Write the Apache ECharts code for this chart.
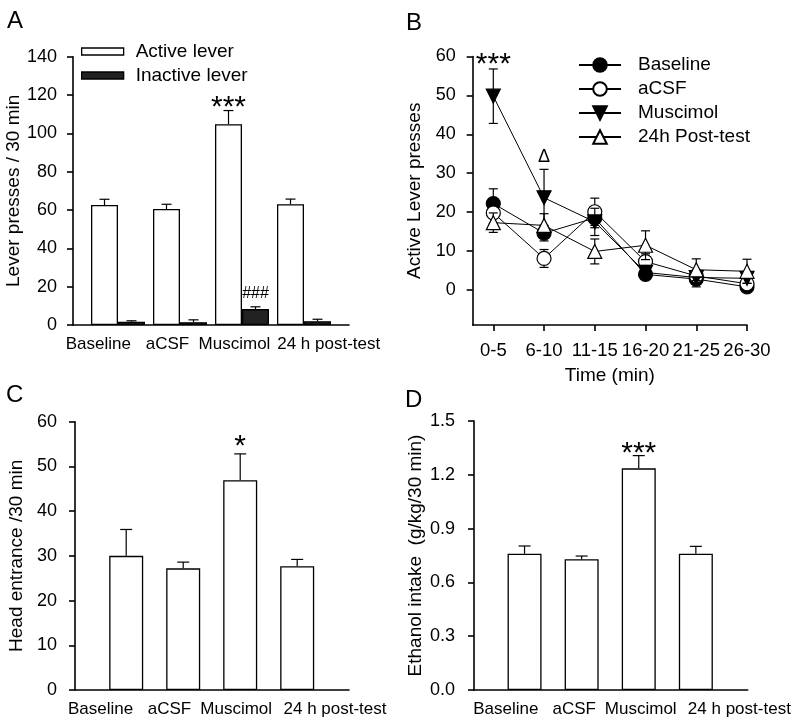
<!DOCTYPE html>
<html><head><meta charset="utf-8">
<script src="https://cdn.jsdelivr.net/npm/echarts@6/dist/echarts.min.js"></script>
<style>html,body{margin:0;padding:0;background:#fff}#c{width:800px;height:727px}</style>
</head><body><div id="c"></div>
<script>
// ---------------- data ----------------
const groups = ['Baseline', 'aCSF', 'Muscimol', '24 h post-test'];
const activeMean = [62.6, 60.5, 104.8, 63.0];
const activeSem = [3.0, 2.5, 7.1, 2.7];
const inactiveMean = [1.7, 1.5, 8.3, 2.0];
const inactiveSem = [0.5, 1.2, 1.2, 1.0];
const activeSig = ['', '', '***', ''];
const inactiveSig = ['', '', '###', ''];
const ticksA = [0, 20, 40, 60, 80, 100, 120, 140];

const timeBins = ['0-5', '6-10', '11-15', '16-20', '21-25', '26-30'];
const bBaseline = [22.2, 14.6, 18.5, 4.0, 2.8, 0.8];
const bBaselineSem = [3.8, 2.0, 2.5, 1.0, 2.0, 0.8];
const bACSF = [19.8, 8.1, 20.1, 7.3, 3.6, 1.6];
const bACSFSem = [2.8, 2.3, 3.5, 2.0, 1.5, 1.0];
const bMuscimol = [49.8, 23.7, 17.5, 4.5, 3.2, 3.0];
const bMuscimolSem = [7.0, 7.3, 3.5, 1.8, 1.5, 1.3];
const bPost = [17.3, 16.6, 9.9, 11.5, 5.2, 4.8];
const bPostSem = [2.5, 3.0, 3.2, 3.7, 2.8, 3.1];
const bMuscimolSig = ['***', '\u0394', '', '', '', ''];
const ticksB = [0, 10, 20, 30, 40, 50, 60];
const legendB = ['Baseline', 'aCSF', 'Muscimol', '24h Post-test'];

const headMean = [30.0, 27.2, 46.9, 27.7];
const headSem = [5.9, 1.4, 5.9, 1.5];
const headSig = ['', '', '*', ''];
const ticksC = [0, 10, 20, 30, 40, 50, 60];

const ethMean = [0.760, 0.729, 1.236, 0.760];
const ethSem = [0.043, 0.018, 0.071, 0.041];
const ethSig = ['', '', '***', ''];
const ticksD = [0, 0.3, 0.6, 0.9, 1.2, 1.5];

// ---------------- layout / style ----------------
const F = "Arial, 'Liberation Sans', Helvetica, sans-serif";
const AX = { color: '#000', width: 1.6 };
const txt = (s) => ({ fontFamily: F, fontSize: s, color: '#000' });

const grids = [
  { left: 73, top: 56.7, width: 276, height: 268.3 },     // 0 A frame
  { left: 87, top: 56.7, width: 248, height: 268.3 },     // 1 A data
  { left: 472.7, top: 56.5, width: 274.3, height: 268.5 },// 2 B
  { left: 75, top: 421.7, width: 274, height: 268.3 },    // 3 C frame
  { left: 97.7, top: 421.7, width: 228, height: 268.3 },  // 4 C data
  { left: 474, top: 421, width: 273.7, height: 269 },     // 5 D frame
  { left: 496, top: 421, width: 228.4, height: 269 }      // 6 D data
].map(g => Object.assign({ outerBoundsMode: 'none', containLabel: false }, g));

function frameX(gi) {
  return { gridIndex: gi, type: 'value', min: 0, max: 1,
    axisLine: { show: true, onZero: false, lineStyle: AX },
    axisTick: { show: false }, axisLabel: { show: false }, splitLine: { show: false } };
}
function frameY(gi, ticks, name, nameGap, margin, fmt) {
  return { gridIndex: gi, type: 'value', min: ticks[0], max: ticks[ticks.length - 1],
    interval: ticks[1] - ticks[0],
    axisLine: { show: true, onZero: false, lineStyle: AX },
    axisTick: { show: true, inside: false, length: 6, lineStyle: AX },
    axisLabel: Object.assign(txt(18), { margin: margin, formatter: fmt }),
    splitLine: { show: false },
    name: name, nameLocation: 'middle', nameGap: nameGap, nameTextStyle: txt(19) };
}
function shiftedLabels(fs, shifts, margin) {
  const rich = {};
  shifts.forEach((s, i) => {
    rich['s' + i] = Object.assign(txt(fs), { padding: s < 0 ? [0, -2 * s, 0, 0] : [0, 0, 0, 2 * s] });
  });
  return Object.assign(txt(fs), { interval: 0, margin: margin, rich: rich,
    formatter: (v, i) => '{s' + i + '|' + v + '}' });
}
function dataX(gi, shifts) {
  return { gridIndex: gi, type: 'category', data: groups,
    axisLine: { show: false }, axisTick: { show: false },
    axisLabel: shiftedLabels(17, shifts, 11), splitLine: { show: false } };
}
function dataY(gi, ticks) {
  return { gridIndex: gi, type: 'value', min: ticks[0], max: ticks[ticks.length - 1], show: false };
}

function errBars(o) {
  return {
    type: 'custom', xAxisIndex: o.xi, yAxisIndex: o.xi, z: o.z || 3, silent: true, clip: false,
    data: o.means.map((m, i) => [i, m, o.sems[i]]),
    encode: { x: 0, y: 1 },
    renderItem(params, api) {
      const i = api.value(0), m = api.value(1), s = api.value(2);
      const c = api.coord([i, m]), t = api.coord([i, m + s]), b = api.coord([i, m - s]);
      const x = c[0] + (o.dx || 0);
      const ls = { stroke: '#000', lineWidth: 1.2 };
      const ch = [
        { type: 'line', shape: { x1: x, y1: o.both ? b[1] : c[1], x2: x, y2: t[1] }, style: ls },
        { type: 'line', shape: { x1: x - o.cap / 2, y1: t[1], x2: x + o.cap / 2, y2: t[1] }, style: ls }
      ];
      if (o.both) ch.push({ type: 'line', shape: { x1: x - o.cap / 2, y1: b[1], x2: x + o.cap / 2, y2: b[1] }, style: ls });
      const sg = o.sigs && o.sigs[params.dataIndex];
      if (sg) {
        const f = sg.indexOf('*') >= 0 ? o.starFont : o.sigFont;
        const lift = sg.indexOf('*') >= 0 ? o.starLift : o.sigLift;
        ch.push({ type: 'text', style: { x: x, y: t[1] - lift, text: sg, fontFamily: F, fontSize: f,
          fill: '#000', align: 'center', verticalAlign: 'middle', textAlign: 'center', textVerticalAlign: 'middle' } });
      }
      return { type: 'group', children: ch };
    }
  };
}

const titleStyle = { fontFamily: F, fontSize: 24, fontWeight: 'normal', color: '#000' };

const bSeriesDefs = [
  { name: legendB[0], data: bBaseline, sem: bBaselineSem, symbol: 'circle', rot: 0, fill: '#000', size: 14 },
  { name: legendB[1], data: bACSF, sem: bACSFSem, symbol: 'circle', rot: 0, fill: '#fff', size: 14 },
  { name: legendB[2], data: bMuscimol, sem: bMuscimolSem, symbol: 'triangle', rot: 180, fill: '#000', size: 14, sig: bMuscimolSig },
  { name: legendB[3], data: bPost, sem: bPostSem, symbol: 'triangle', rot: 0, fill: '#fff', size: 14 }
];
const bSeries = [];
bSeriesDefs.forEach((d, k) => {
  bSeries.push(Object.assign(errBars({ xi: 2, means: d.data, sems: d.sem, cap: 9, both: true,
    sigs: d.sig, starFont: 30, starLift: 4, sigFont: 18, sigLift: 12 }), { z: 2 + 2 * k }));
  bSeries.push({ type: 'line', name: d.name, xAxisIndex: 2, yAxisIndex: 2, z: 3 + 2 * k,
    data: d.data.map((v, i) => [i, v]), symbol: d.symbol, symbolRotate: d.rot, symbolSize: d.size,
    showSymbol: true, showAllSymbol: true,
    lineStyle: { color: '#000', width: 1 },
    itemStyle: { color: d.fill, borderColor: '#000', borderWidth: 1.2 } });
});

const option = {
  animation: false,
  backgroundColor: '#fff',
  title: [
    { text: 'A', left: 7, top: 9, padding: 0, textStyle: titleStyle },
    { text: 'B', left: 406, top: 11, padding: 0, textStyle: titleStyle },
    { text: 'C', left: 6, top: 383, padding: 0, textStyle: titleStyle },
    { text: 'D', left: 405, top: 388, padding: 0, textStyle: titleStyle }
  ],
  legend: [
    { orient: 'vertical', left: 81, top: 42, padding: 0, itemWidth: 42, itemHeight: 7, itemGap: 5,
      icon: 'rect', selectedMode: false,
      data: [
        { name: 'Active lever', itemStyle: { color: '#fff', borderColor: '#000', borderWidth: 1.3 } },
        { name: 'Inactive lever', itemStyle: { color: '#222', borderColor: '#000', borderWidth: 1.3 } }
      ],
      textStyle: Object.assign(txt(19), { lineHeight: 19, padding: [0, 0, 0, 7] }) },
    { orient: 'vertical', left: 578, top: 55.5, padding: 0, itemWidth: 42, itemHeight: 17, itemGap: 5,
      selectedMode: false, data: legendB,
      textStyle: Object.assign(txt(19), { lineHeight: 19, padding: [0, 0, 0, 12] }) }
  ],
  grid: grids,
  xAxis: [
    frameX(0),
    dataX(1, [-19.7, -12.5, -7.5, 24.7]),
    { gridIndex: 2, type: 'value', min: -0.406, max: 5,
      axisLine: { show: true, onZero: false, lineStyle: AX },
      axisTick: { show: true, inside: false, length: 6, lineStyle: AX, customValues: timeBins.map((_, i) => i) },
      axisLabel: Object.assign(txt(18.5), { margin: 16, customValues: timeBins.map((_, i) => i),
        formatter: v => timeBins[Math.round(v)] }),
      splitLine: { show: false },
      name: 'Time (min)', nameLocation: 'middle', nameGap: 41, nameTextStyle: txt(19) },
    frameX(3),
    dataX(4, [-25.7, -13.7, -4, 37.8]),
    frameX(5),
    dataX(6, [-18.7, -7.5, 2, 43.5])
  ],
  yAxis: [
    frameY(0, ticksA, 'Lever presses / 30 min', 45, 16),
    dataY(1, ticksA),
    { gridIndex: 2, type: 'value', min: -9, max: 60,
      axisLine: { show: true, onZero: false, lineStyle: AX },
      axisTick: { show: true, inside: false, length: 6, lineStyle: AX, customValues: ticksB },
      axisLabel: Object.assign(txt(18), { margin: 17, customValues: ticksB }),
      splitLine: { show: false },
      name: 'Active Lever presses', nameLocation: 'middle', nameGap: 48, nameTextStyle: txt(19) },
    frameY(3, ticksC, 'Head entrance /30 min', 49, 18),
    dataY(4, ticksC),
    frameY(5, ticksD, 'Ethanol intake  (g/kg/30 min)', 49, 19, v => v.toFixed(1)),
    dataY(6, ticksD)
  ],
  series: [
    { type: 'bar', name: 'Active lever', xAxisIndex: 1, yAxisIndex: 1, data: activeMean, barWidth: 27, barGap: '0%',
      itemStyle: { color: '#fff', borderColor: '#000', borderWidth: 1.3 } },
    { type: 'bar', name: 'Inactive lever', xAxisIndex: 1, yAxisIndex: 1, data: inactiveMean, barWidth: 27, barGap: '0%',
      itemStyle: { color: '#222', borderColor: '#000', borderWidth: 1.3 } },
    errBars({ xi: 1, means: activeMean, sems: activeSem, dx: -13.5, cap: 10, sigs: activeSig, starFont: 30, starLift: 3 }),
    errBars({ xi: 1, means: inactiveMean, sems: inactiveSem, dx: 13.5, cap: 10, sigs: inactiveSig, sigFont: 16, sigLift: 13 }),
    ...bSeries,
    { type: 'bar', name: 'Head entrance', xAxisIndex: 4, yAxisIndex: 4, data: headMean, barWidth: 34,
      itemStyle: { color: '#fff', borderColor: '#000', borderWidth: 1.3 } },
    errBars({ xi: 4, means: headMean, sems: headSem, cap: 12, sigs: headSig, starFont: 30, starLift: 7 }),
    { type: 'bar', name: 'Ethanol intake', xAxisIndex: 6, yAxisIndex: 6, data: ethMean, barWidth: 34,
      itemStyle: { color: '#fff', borderColor: '#000', borderWidth: 1.3 } },
    errBars({ xi: 6, means: ethMean, sems: ethSem, cap: 12, sigs: ethSig, starFont: 30, starLift: 2 })
  ]
};
const chart = echarts.init(document.getElementById('c'), null, { renderer: 'canvas' });
chart.setOption(option);
</script>
</body></html>
